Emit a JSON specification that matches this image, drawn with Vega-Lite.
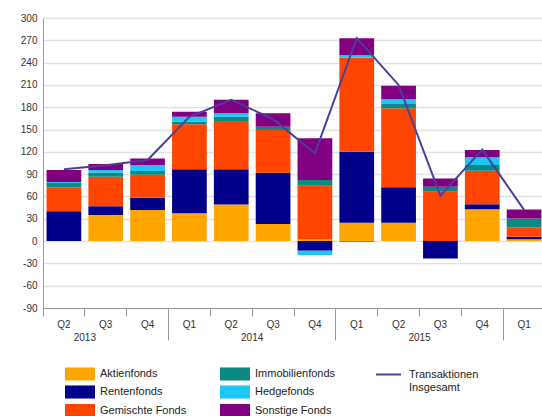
{
  "$schema": "https://vega.github.io/schema/vega-lite/v6.json",
  "width": 502,
  "height": 290,
  "autosize": "none",
  "padding": {"left": 43, "top": 18, "right": 0, "bottom": 108},
  "background": "white",
  "config": {
    "font": "Liberation Sans",
    "view": {"stroke": null},
    "legend": {"padding": 0},
    "axisY": {"labelOverlap": false, "labelFlush": false, "labelBound": false, "tickCount": 20}
  },
  "datasets": {
    "bars": [
      {"q": "2013 Q2", "fund": "Aktienfonds", "v": 0},
      {"q": "2013 Q2", "fund": "Rentenfonds", "v": 40},
      {"q": "2013 Q2", "fund": "Gemischte Fonds", "v": 32},
      {"q": "2013 Q2", "fund": "Immobilienfonds", "v": 6},
      {"q": "2013 Q2", "fund": "Hedgefonds", "v": 1.5},
      {"q": "2013 Q2", "fund": "Sonstige Fonds", "v": 16},
      {"q": "2013 Q3", "fund": "Aktienfonds", "v": 35},
      {"q": "2013 Q3", "fund": "Rentenfonds", "v": 12},
      {"q": "2013 Q3", "fund": "Gemischte Fonds", "v": 39.5},
      {"q": "2013 Q3", "fund": "Immobilienfonds", "v": 5.5},
      {"q": "2013 Q3", "fund": "Hedgefonds", "v": 3.6},
      {"q": "2013 Q3", "fund": "Sonstige Fonds", "v": 8},
      {"q": "2013 Q4", "fund": "Aktienfonds", "v": 41.7},
      {"q": "2013 Q4", "fund": "Rentenfonds", "v": 16.6},
      {"q": "2013 Q4", "fund": "Gemischte Fonds", "v": 31},
      {"q": "2013 Q4", "fund": "Immobilienfonds", "v": 5},
      {"q": "2013 Q4", "fund": "Hedgefonds", "v": 7.7},
      {"q": "2013 Q4", "fund": "Sonstige Fonds", "v": 9},
      {"q": "2014 Q1", "fund": "Aktienfonds", "v": 37.3},
      {"q": "2014 Q1", "fund": "Rentenfonds", "v": 59.2},
      {"q": "2014 Q1", "fund": "Gemischte Fonds", "v": 60.5},
      {"q": "2014 Q1", "fund": "Immobilienfonds", "v": 3.6},
      {"q": "2014 Q1", "fund": "Hedgefonds", "v": 6.7},
      {"q": "2014 Q1", "fund": "Sonstige Fonds", "v": 6.7},
      {"q": "2014 Q2", "fund": "Aktienfonds", "v": 49.3},
      {"q": "2014 Q2", "fund": "Rentenfonds", "v": 47.2},
      {"q": "2014 Q2", "fund": "Gemischte Fonds", "v": 65},
      {"q": "2014 Q2", "fund": "Immobilienfonds", "v": 5.8},
      {"q": "2014 Q2", "fund": "Hedgefonds", "v": 4.6},
      {"q": "2014 Q2", "fund": "Sonstige Fonds", "v": 18},
      {"q": "2014 Q3", "fund": "Aktienfonds", "v": 23},
      {"q": "2014 Q3", "fund": "Rentenfonds", "v": 69},
      {"q": "2014 Q3", "fund": "Gemischte Fonds", "v": 57.4},
      {"q": "2014 Q3", "fund": "Immobilienfonds", "v": 4.4},
      {"q": "2014 Q3", "fund": "Hedgefonds", "v": 0},
      {"q": "2014 Q3", "fund": "Sonstige Fonds", "v": 18.1},
      {"q": "2014 Q4", "fund": "Aktienfonds", "v": 2},
      {"q": "2014 Q4", "fund": "Rentenfonds", "v": -13},
      {"q": "2014 Q4", "fund": "Gemischte Fonds", "v": 72.4},
      {"q": "2014 Q4", "fund": "Immobilienfonds", "v": 7.6},
      {"q": "2014 Q4", "fund": "Hedgefonds", "v": -5.8},
      {"q": "2014 Q4", "fund": "Sonstige Fonds", "v": 56.2},
      {"q": "2015 Q1", "fund": "Aktienfonds", "v": 24.6},
      {"q": "2015 Q1", "fund": "Rentenfonds", "v": 95.4},
      {"q": "2015 Q1", "fund": "Gemischte Fonds", "v": 127},
      {"q": "2015 Q1", "fund": "Immobilienfonds", "v": -1},
      {"q": "2015 Q1", "fund": "Hedgefonds", "v": 3},
      {"q": "2015 Q1", "fund": "Sonstige Fonds", "v": 22.8},
      {"q": "2015 Q2", "fund": "Aktienfonds", "v": 24.6},
      {"q": "2015 Q2", "fund": "Rentenfonds", "v": 47.7},
      {"q": "2015 Q2", "fund": "Gemischte Fonds", "v": 106.3},
      {"q": "2015 Q2", "fund": "Immobilienfonds", "v": 5.8},
      {"q": "2015 Q2", "fund": "Hedgefonds", "v": 6.3},
      {"q": "2015 Q2", "fund": "Sonstige Fonds", "v": 18.3},
      {"q": "2015 Q3", "fund": "Aktienfonds", "v": 0},
      {"q": "2015 Q3", "fund": "Rentenfonds", "v": -23.3},
      {"q": "2015 Q3", "fund": "Gemischte Fonds", "v": 66.4},
      {"q": "2015 Q3", "fund": "Immobilienfonds", "v": 6.6},
      {"q": "2015 Q3", "fund": "Hedgefonds", "v": 0},
      {"q": "2015 Q3", "fund": "Sonstige Fonds", "v": 11.3},
      {"q": "2015 Q4", "fund": "Aktienfonds", "v": 42.7},
      {"q": "2015 Q4", "fund": "Rentenfonds", "v": 6.7},
      {"q": "2015 Q4", "fund": "Gemischte Fonds", "v": 45.2},
      {"q": "2015 Q4", "fund": "Immobilienfonds", "v": 7.6},
      {"q": "2015 Q4", "fund": "Hedgefonds", "v": 10.4},
      {"q": "2015 Q4", "fund": "Sonstige Fonds", "v": 9.9},
      {"q": "2016 Q1", "fund": "Aktienfonds", "v": 2.3},
      {"q": "2016 Q1", "fund": "Rentenfonds", "v": 3.5},
      {"q": "2016 Q1", "fund": "Gemischte Fonds", "v": 12.6},
      {"q": "2016 Q1", "fund": "Immobilienfonds", "v": 12.1},
      {"q": "2016 Q1", "fund": "Hedgefonds", "v": 0},
      {"q": "2016 Q1", "fund": "Sonstige Fonds", "v": 12.1}
    ],
    "total": [
      {"q": "2013 Q2", "total": 96.5},
      {"q": "2013 Q3", "total": 102},
      {"q": "2013 Q4", "total": 109},
      {"q": "2014 Q1", "total": 167},
      {"q": "2014 Q2", "total": 190},
      {"q": "2014 Q3", "total": 164},
      {"q": "2014 Q4", "total": 118},
      {"q": "2015 Q1", "total": 273},
      {"q": "2015 Q2", "total": 210},
      {"q": "2015 Q3", "total": 61},
      {"q": "2015 Q4", "total": 123},
      {"q": "2016 Q1", "total": 42}
    ],
    "years": [
      {"q": "2013 Q3", "year": "2013"},
      {"q": "2014 Q3", "year": "2014"},
      {"q": "2015 Q3", "year": "2015"}
    ]
  },
  "encoding": {
    "x": {
      "field": "q",
      "type": "nominal",
      "scale": {
        "domain": ["2013 Q2", "2013 Q3", "2013 Q4", "2014 Q1", "2014 Q2", "2014 Q3", "2014 Q4", "2015 Q1", "2015 Q2", "2015 Q3", "2015 Q4", "2016 Q1"],
        "paddingInner": 0,
        "paddingOuter": 0
      },
      "axis": {
        "title": null,
        "bandPosition": 0,
        "labelAngle": 0,
        "labelExpr": "slice(datum.label, 5)",
        "labelFontSize": 10,
        "labelColor": "#333333",
        "labelPadding": {"condition": {"test": "indexof(datum.value, 'Q1') >= 0", "value": -21}, "value": 3},
        "tickSize": {"condition": {"test": "indexof(datum.value, 'Q1') >= 0", "value": 32}, "value": 8},
        "tickColor": "#999999",
        "domainColor": "#999999",
        "grid": false
      }
    }
  },
  "layer": [
    {
      "data": {"name": "bars"},
      "transform": [
        {"calculate": "indexof(['Aktienfonds','Rentenfonds','Gemischte Fonds','Immobilienfonds','Hedgefonds','Sonstige Fonds'], datum.fund)", "as": "rank"}
      ],
      "mark": {"type": "bar", "width": {"band": 0.83}},
      "encoding": {
        "y": {
          "field": "v",
          "type": "quantitative",
          "stack": "zero",
          "scale": {"domain": [-90, 300], "nice": false, "zero": false},
          "axis": {
            "title": null,
            "values": [-90, -60, -30, 0, 30, 60, 90, 120, 150, 180, 210, 240, 270, 300],
            "tickCount": 20,
            "labelExpr": "toString(datum.value)",
            "labelOverlap": false,
            "labelFontSize": 10,
            "labelColor": "#333333",
            "labelPadding": 6,
            "ticks": false,
            "grid": true,
            "gridColor": "#e2e2e2",
            "gridWidth": 1.5,
            "domainColor": "#999999"
          }
        },
        "order": {"field": "rank", "type": "quantitative", "sort": "ascending"},
        "color": {
          "field": "fund",
          "type": "nominal",
          "scale": {
            "domain": ["Aktienfonds", "Rentenfonds", "Gemischte Fonds", "Immobilienfonds", "Hedgefonds", "Sonstige Fonds"],
            "range": ["#ffa500", "#00008b", "#ff4500", "#0b8a82", "#1ec6f4", "#800080"]
          },
          "legend": {
            "title": null,
            "orient": "none",
            "legendX": 29.5,
            "legendY": 348,
            "columns": 2,
            "columnPadding": 33,
            "rowPadding": 3.5,
            "symbolType": "M-2,-0.87H2V0.87H-2Z",
            "symbolSize": 225,
            "symbolStrokeWidth": 0,
            "labelFontSize": 11,
            "labelColor": "#222222",
            "labelOffset": 12.5
          }
        }
      }
    },
    {
      "data": {"name": "total"},
      "mark": {"type": "line", "strokeWidth": 2},
      "encoding": {
        "y": {
          "field": "total",
          "type": "quantitative",
          "axis": {
            "title": null,
            "values": [-90, -60, -30, 0, 30, 60, 90, 120, 150, 180, 210, 240, 270, 300],
            "tickCount": 20,
            "labelExpr": "toString(datum.value)",
            "labelOverlap": false,
            "labelFontSize": 10,
            "labelColor": "#333333",
            "labelPadding": 6,
            "ticks": false,
            "grid": true,
            "gridColor": "#e2e2e2",
            "gridWidth": 1.5,
            "domainColor": "#999999"
          }
        },
        "stroke": {
          "datum": "Transaktionen Insgesamt",
          "scale": {"range": ["#4b3f9e"]},
          "legend": {
            "title": null,
            "orient": "none",
            "legendX": 332,
            "legendY": 343,
            "symbolType": "stroke",
            "symbolSize": 625,
            "symbolStrokeWidth": 2,
            "labelFontSize": 11,
            "labelColor": "#222222",
            "labelOffset": 7,
            "labelExpr": "['Transaktionen', 'Insgesamt']"
          }
        }
      }
    },
    {
      "data": {"name": "years"},
      "mark": {"type": "text", "fontSize": 10, "color": "#333333", "baseline": "middle", "align": "center"},
      "encoding": {
        "x": {"field": "q", "type": "nominal", "bandPosition": 0},
        "y": {"datum": -130, "type": "quantitative"},
        "text": {"field": "year"}
      }
    }
  ]
}
